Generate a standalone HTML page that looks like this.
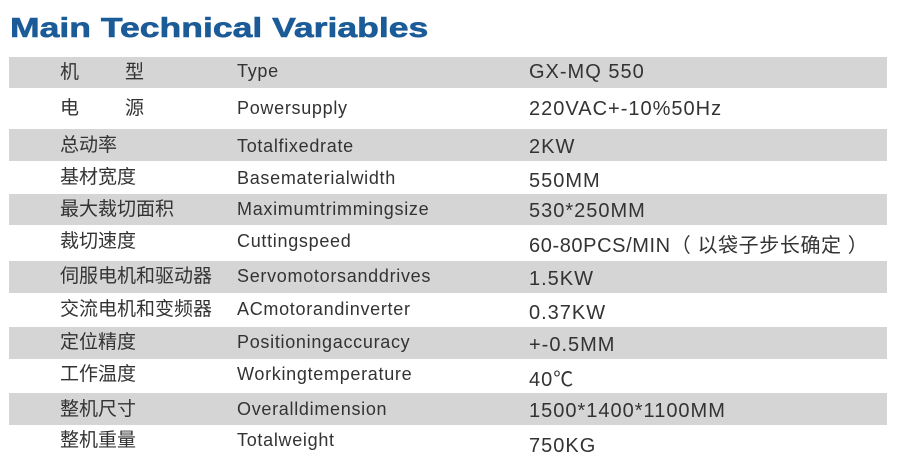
<!DOCTYPE html>
<html><head><meta charset="utf-8"><style>
body{margin:0;width:900px;height:470px;background:#fff;position:relative;overflow:hidden;font-family:"Liberation Sans","Noto Sans CJK SC",sans-serif;color:#333}
.t{position:absolute;left:10px;top:12px;font-size:28px;font-weight:bold;color:#1b5b97;white-space:nowrap;transform-origin:0 0;transform:scaleX(1.27);-webkit-text-stroke:0.6px #1b5b97}
.g{position:absolute;left:9px;width:878px;background:#d5d5d5}
.c{position:absolute;white-space:nowrap;font-size:19px;line-height:20px;transform:translateY(-50%)}
.e{font-size:18px;letter-spacing:0.7px}
.v{font-size:20px;letter-spacing:1px}
</style></head><body>
<div class="t">Main Technical Variables</div>
<div class="g" style="top:57px;height:31px"></div>
<div class="g" style="top:129px;height:32px"></div>
<div class="g" style="top:194px;height:31px"></div>
<div class="g" style="top:261px;height:32px"></div>
<div class="g" style="top:327px;height:32px"></div>
<div class="g" style="top:393px;height:32px"></div>

<div class="c" style="left:60px;top:73px">机<span style="padding-left:46px">型</span></div><div class="c e" style="left:237px;top:71px">Type</div><div class="c v" style="left:529px;top:72px">GX-MQ 550</div>
<div class="c" style="left:60px;top:109px">电<span style="padding-left:46px">源</span></div><div class="c e" style="left:237px;top:108px">Powersupply</div><div class="c v" style="left:529px;top:109px">220VAC+-10%50Hz</div>
<div class="c" style="left:60px;top:146px">总动率</div><div class="c e" style="left:237px;top:146px">Totalfixedrate</div><div class="c v" style="left:529px;top:147px">2KW</div>
<div class="c" style="left:60px;top:178px">基材宽度</div><div class="c e" style="left:237px;top:178px">Basematerialwidth</div><div class="c v" style="left:529px;top:181px">550MM</div>
<div class="c" style="left:60px;top:210px">最大裁切面积</div><div class="c e" style="left:237px;top:209px">Maximumtrimmingsize</div><div class="c v" style="left:529px;top:211px">530*250MM</div>
<div class="c" style="left:60px;top:242px">裁切速度</div><div class="c e" style="left:237px;top:241px">Cuttingspeed</div><div class="c v" style="left:529px;top:246px;letter-spacing:0.6px">60-80PCS/MIN（ 以袋子步长确定 ）</div>
<div class="c" style="left:60px;top:277px">伺服电机和驱动器</div><div class="c e" style="left:237px;top:276px">Servomotorsanddrives</div><div class="c v" style="left:529px;top:279px">1.5KW</div>
<div class="c" style="left:60px;top:310px">交流电机和变频器</div><div class="c e" style="left:237px;top:309px">ACmotorandinverter</div><div class="c v" style="left:529px;top:313px">0.37KW</div>
<div class="c" style="left:60px;top:343px">定位精度</div><div class="c e" style="left:237px;top:342px">Positioningaccuracy</div><div class="c v" style="left:529px;top:345px">+-0.5MM</div>
<div class="c" style="left:60px;top:375px">工作温度</div><div class="c e" style="left:237px;top:374px">Workingtemperature</div><div class="c v" style="left:529px;top:380px">40℃</div>
<div class="c" style="left:60px;top:410px">整机尺寸</div><div class="c e" style="left:237px;top:409px">Overalldimension</div><div class="c v" style="left:529px;top:411px">1500*1400*1100MM</div>
<div class="c" style="left:60px;top:441px">整机重量</div><div class="c e" style="left:237px;top:440px">Totalweight</div><div class="c v" style="left:529px;top:446px">750KG</div>
</body></html>
